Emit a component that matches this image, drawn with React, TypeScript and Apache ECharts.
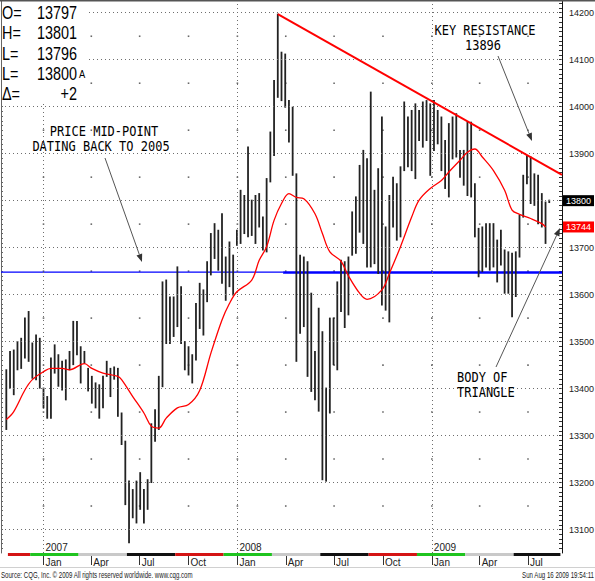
import React, { useEffect, useRef } from "react";
import * as echarts from "echarts";

// ---------- data ----------
const FIRST_WEEK = "2006-10-23"; // first weekly bar
const AXIS_START = "2006-10-13";
const AXIS_END = "2009-09-03";

const highs = [
  13440, 13479, 13482, 13500, 13507, 13550, 13564, 13497, 13514, 13507,
  13401, 13383, 13465, 13493, 13472, 13458, 13461, 13479, 13543, 13543,
  13489, 13479, 13443, 13426, 13412, 13408, 13426, 13458, 13443, 13446,
  13443, 13348, 13288, 13203, 13185, 13203, 13221, 13185, 13206, 13325,
  13355, 13426, 13627, 13631, 13595, 13595, 13659, 13617, 13500, 13489,
  13472, 13581, 13624, 13610, 13670, 13730, 13751, 13737, 13772, 13680,
  13712, 13684, 13737, 13822, 13811, 13914, 13801, 13811, 13815, 13765,
  13847, 13946, 14056, 14197, 14116, 14112, 14013, 13999, 13857, 13684,
  13680, 13670, 13603, 13479, 13571, 13521, 13401, 13550, 13550, 13627,
  13673, 13670, 13680, 13776, 13808, 13875, 13907, 13889, 14031, 13822,
  13868, 13978, 13744, 13811, 13850, 13836, 13872, 14010, 13978, 13992,
  14006, 13992, 14010, 14013, 14006, 14013, 13992, 13978, 13928, 13964,
  13978, 13985, 13907, 13907, 13967, 13967, 13836, 13741, 13744, 13751,
  13751, 13751, 13716, 13737, 13695, 13691, 13688, 13691, 13769, 13854,
  13896, 13893, 13857, 13854, 13815, 13797, 13801,
];
const lows = [
  13313, 13401, 13387, 13440, 13443, 13465, 13458, 13422, 13419, 13401,
  13359, 13337, 13337, 13433, 13405, 13397, 13376, 13440, 13451, 13472,
  13412, 13454, 13395, 13369, 13359, 13337, 13359, 13426, 13383, 13420,
  13341, 13281, 13153, 13072, 13125, 13114, 13143, 13114, 13143, 13200,
  13288, 13313, 13404, 13496, 13496, 13511, 13532, 13496, 13440, 13429,
  13412, 13461, 13528, 13514, 13585, 13642, 13677, 13652, 13624, 13588,
  13617, 13599, 13705, 13709, 13730, 13723, 13726, 13709, 13744, 13695,
  13691, 13840, 13896, 14020, 14013, 13999, 13925, 13854, 13458, 13518,
  13532, 13426, 13394, 13376, 13352, 13206, 13203, 13348, 13451, 13440,
  13564, 13530, 13557, 13684, 13688, 13733, 13709, 13659, 13659, 13666,
  13645, 13578, 13567, 13542, 13744, 13716, 13723, 13864, 13872, 13864,
  13847, 13928, 13914, 13928, 13854, 13907, 13921, 13864, 13826, 13808,
  13889, 13893, 13850, 13833, 13811, 13808, 13723, 13638, 13649, 13659,
  13652, 13659, 13627, 13663, 13603, 13603, 13553, 13596, 13680, 13765,
  13836, 13794, 13790, 13751, 13744, 13709, 13796,
];

// moving average (bar index -> value)
const maIndex = [
  0, 2, 5, 7, 10, 12, 15, 17, 21, 23, 26, 30, 31, 34, 37, 39, 41, 43, 46, 49,
  52, 55, 58, 60, 62, 66, 68, 70, 72, 74, 76, 78, 80, 83, 85, 87, 90, 92, 95, 97,
  101, 103, 106, 109, 111, 114, 117, 119, 122, 124, 126, 128, 131, 134, 136, 138,
  141, 144, 145,
];
const maValue = [
  13334, 13351, 13397, 13419, 13436, 13443, 13443, 13440, 13453, 13443, 13433,
  13426, 13419, 13383, 13348, 13320, 13316, 13337, 13359, 13366, 13396, 13475,
  13546, 13581, 13606, 13631, 13673, 13702, 13758, 13794, 13815, 13807, 13804,
  13772, 13730, 13691, 13671, 13640, 13603, 13590, 13610, 13645, 13702, 13765,
  13801, 13826, 13843, 13861, 13886, 13903, 13910, 13893, 13864, 13822, 13780,
  13771, 13762, 13751, 13744,
];

const priceTicks = [13100, 13200, 13300, 13400, 13500, 13600, 13700, 13800, 13900, 14000, 14100, 14200];
const quarterTicks = [
  "2007-01-01", "2007-04-01", "2007-07-01", "2007-10-01",
  "2008-01-01", "2008-04-01", "2008-07-01", "2008-10-01",
  "2009-01-01", "2009-04-01", "2009-07-01",
];
const yearTicks = ["2007-01-01", "2008-01-01", "2009-01-01"];
const monthNames = ["Jan", "Feb", "Mar", "Apr", "May", "Jun", "Jul", "Aug", "Sep", "Oct", "Nov", "Dec"];

// contract strip (roll dates) and its colours
const contractRolls = [
  "2006-10-26", "2006-12-07", "2007-03-08", "2007-06-07", "2007-09-06", "2007-12-06",
  "2008-03-06", "2008-06-05", "2008-09-04", "2008-12-04", "2009-03-05", "2009-06-04", "2009-08-31",
];
const contractColorIdx = [0, 1, 2, 3, 0, 1, 2, 3, 0, 1, 2, 3];
const stripColors = ["#d41414", "#1fc41f", "#c9c9c9", "#111111"];

const trendStart: [string, number] = ["2008-03-17", 14197];
const trendEndValue = 13855;
const midPoint = 13648;
const midPointSplit = "2008-03-27";
const lastPrice = 13800;
const maLast = 13744;

const infoRows = [
  ["O=", "13797"],
  ["H=", "13801"],
  ["L=", "13796"],
  ["L=", "13800"],
  ["\u0394=", "+2"],
];

// ---------- helpers ----------
const DAY = 86400000;
const ts = (s: string) => {
  const [y, m, d] = s.split("-").map(Number);
  return Date.UTC(y, m - 1, d);
};
const X_MIN = ts(AXIS_START);
const X_MAX = ts(AXIS_END);
const Y_MIN = 13050;
const Y_MAX = 14225;
const weekTs = (i: number) => ts(FIRST_WEEK) + i * 7 * DAY;
const AXIS_FONT = "'Liberation Sans Narrow', 'Arial Narrow', 'Liberation Sans', Arial, sans-serif";

function arrow(x1: number, y1: number, x2: number, y2: number) {
  const a = Math.atan2(y2 - y1, x2 - x1);
  const L = 8, W = 3;
  const bx = x2 - L * Math.cos(a), by = y2 - L * Math.sin(a);
  const px = -Math.sin(a) * W, py = Math.cos(a) * W;
  return [
    { type: "line", z: 100, shape: { x1, y1, x2: bx, y2: by }, style: { stroke: "#555", lineWidth: 1 } },
    { type: "polygon", z: 100, shape: { points: [[x2, y2], [bx + px, by + py], [bx - px, by - py]] }, style: { fill: "#333" } },
  ];
}

function annText(text: string, x: number, y: number, align: string) {
  return {
    type: "text", z: 100, x, y, scaleY: 1.2,
    style: {
      text, fill: "#000", fontSize: 12, fontFamily: "'DejaVu Sans Mono', monospace",
      align, verticalAlign: "middle", textAlign: align, textVerticalAlign: "middle",
    },
  };
}

export default function App() {
  const ref = useRef<HTMLDivElement>(null);
  useEffect(() => {
    if (!ref.current) return;
    const chart = echarts.init(ref.current, null, { renderer: "svg" });

    const bars = highs.map((h, i) => [weekTs(i), h, lows[i]]);
    const ma = maIndex.map((idx, k) => [weekTs(idx), maValue[k]]);
    const dots: number[][] = [];
    quarterTicks.forEach((q) => priceTicks.slice(0, -1).forEach((p) => dots.push([ts(q), p + 50])));
    const strip = contractColorIdx.map((c, k) => [ts(contractRolls[k]), Y_MIN, ts(contractRolls[k + 1]), c]);
    const minorTicks: number[] = [];
    for (let v = 13060; v <= 14220; v += 10) minorTicks.push(v);

    const infoGraphics: any[] = [
      { type: "rect", z: 90, shape: { x: 2, y: 2, width: 86, height: 101 }, style: { fill: "#fff" } },
    ];
    const rowY = [12, 32, 53, 73, 93];
    infoRows.forEach((r, k) => {
      infoGraphics.push({
        type: "text", z: 100, x: 2, y: rowY[k], scaleX: 0.8,
        style: { text: r[0], fill: "#000", fontSize: 18, fontFamily: "'Liberation Sans', Arial, sans-serif", align: "left", verticalAlign: "middle", textAlign: "left", textVerticalAlign: "middle" },
      });
      infoGraphics.push({
        type: "text", z: 100, x: 77, y: rowY[k], scaleX: 0.8,
        style: { text: r[1], fill: "#000", fontSize: 18, fontFamily: "'Liberation Sans', Arial, sans-serif", align: "right", verticalAlign: "middle", textAlign: "right", textVerticalAlign: "middle" },
      });
    });
    infoGraphics.push({
      type: "text", z: 100, x: 79, y: 80, scaleX: 0.85,
      style: { text: "A", fill: "#000", fontSize: 11, fontFamily: "'Liberation Sans', Arial, sans-serif", align: "left", verticalAlign: "bottom", textAlign: "left", textVerticalAlign: "bottom" },
    });

    const tagLabel = (value: number, bg: string) => ({
      show: true, position: "end", distance: 1, formatter: () => String(value),
      backgroundColor: bg, color: "#fff", padding: [1, 3, 1, 3], fontSize: 9, fontFamily: AXIS_FONT,
    });

    const option: any = {
      animation: false,
      backgroundColor: "#fff",
      grid: { left: 1, right: 33, top: 1, bottom: 28, containLabel: false, outerBoundsMode: "none" },
      xAxis: [
        {
          type: "value", min: X_MIN, max: X_MAX, position: "bottom",
          axisLine: { show: false },
          axisTick: { show: true, customValues: quarterTicks.map(ts), length: 12, lineStyle: { color: "#333" } },
          axisLabel: {
            customValues: quarterTicks.map(ts), align: "left", margin: 4, padding: [0, 0, 0, 2],
            fontSize: 10, color: "#222", fontFamily: "'Liberation Sans', Arial, sans-serif",
            formatter: (v: number) => monthNames[new Date(v).getUTCMonth()],
          },
          splitLine: { show: false },
        },
        {
          type: "value", min: X_MIN, max: X_MAX, position: "bottom",
          axisLine: { show: false }, axisTick: { show: false },
          axisLabel: {
            inside: true, customValues: yearTicks.map(ts), align: "left", margin: 1, padding: [0, 0, 0, 2],
            fontSize: 10, color: "#222", fontFamily: "'Liberation Sans', Arial, sans-serif",
            formatter: (v: number) => String(new Date(v).getUTCFullYear()),
          },
          splitLine: { show: false },
        },
      ],
      yAxis: [
        {
          type: "value", min: Y_MIN, max: Y_MAX, position: "right",
          axisLine: { show: true, lineStyle: { color: "#111", width: 1 } },
          axisTick: { show: true, inside: true, length: 3, customValues: minorTicks, lineStyle: { color: "#333" } },
          axisLabel: {
            customValues: priceTicks.filter((v) => v !== lastPrice), margin: 7, fontSize: 9, color: "#222",
            fontFamily: AXIS_FONT, formatter: (v: number) => String(v),
          },
          splitLine: { show: false },
        },
        {
          type: "value", min: Y_MIN, max: Y_MAX, position: "left",
          axisLine: { show: true, lineStyle: { color: "#666", width: 1 } },
          axisTick: { show: true, inside: true, length: 2, customValues: minorTicks, lineStyle: { color: "#666" } },
          axisLabel: { show: false },
          splitLine: { show: false },
        },
      ],
      series: [
        {
          name: "gridlines", type: "line", z: 1, silent: true, symbol: "none",
          lineStyle: { width: 0, opacity: 0 },
          data: [[X_MIN, Y_MIN], [X_MAX, Y_MIN]],
          markLine: {
            silent: true, symbol: ["none", "none"], label: { show: false },
            lineStyle: { color: "#6e6e6e", type: [1, 3], width: 1, opacity: 1 },
            data: [
              ...priceTicks.map((v) => ({ yAxis: v })),
              ...yearTicks.map((t) => ({ xAxis: ts(t) })),
            ],
          },
        },
        {
          name: "dots", type: "scatter", z: 1, silent: true,
          symbol: "rect", symbolSize: 1.6, itemStyle: { color: "#444" },
          data: dots,
        },
        {
          name: "strip", type: "custom", z: 2, silent: true, clip: false,
          encode: { x: 0, y: 1 },
          data: strip,
          renderItem: (_p: any, api: any) => {
            const s = api.coord([api.value(0), Y_MIN]);
            const e = api.coord([api.value(2), Y_MIN]);
            return {
              type: "rect",
              shape: { x: s[0], y: s[1], width: e[0] - s[0], height: 3 },
              style: { fill: stripColors[api.value(3)] },
            };
          },
        },
        {
          name: "midLeft", type: "line", z: 3, symbol: "none", silent: true,
          lineStyle: { color: "#0000ff", width: 1.3 },
          data: [[X_MIN, midPoint], [ts(midPointSplit), midPoint]],
        },
        {
          name: "midRight", type: "line", z: 3, symbol: "none", silent: true,
          lineStyle: { color: "#0000ff", width: 2.5 },
          data: [[ts(midPointSplit), midPoint - 1], [X_MAX, midPoint - 1]],
        },
        {
          name: "price", type: "custom", z: 4, silent: true,
          encode: { x: 0, y: [1, 2] },
          data: bars,
          renderItem: (_p: any, api: any) => {
            const a = api.coord([api.value(0), api.value(1)]);
            const b = api.coord([api.value(0), api.value(2)]);
            return {
              type: "line",
              shape: { x1: a[0], y1: a[1] - 0.5, x2: b[0], y2: b[1] + 0.5 },
              style: { stroke: "#222", lineWidth: 1.8 },
            };
          },
        },
        {
          name: "ma", type: "line", z: 5, symbol: "none", silent: true, smooth: 0.35,
          lineStyle: { color: "#ff0000", width: 1.3 },
          data: ma,
        },
        {
          name: "tags", type: "line", z: 10, symbol: "none", silent: true,
          lineStyle: { width: 0, color: "rgba(0,0,0,0)" },
          data: [[X_MAX, lastPrice], [X_MAX, maLast]],
          markLine: {
            silent: true, symbol: ["none", "none"],
            lineStyle: { color: "rgba(0,0,0,0)", width: 1 },
            data: [
              { yAxis: lastPrice, label: tagLabel(lastPrice, "#000") },
              { yAxis: maLast, label: tagLabel(maLast, "#ff0000") },
            ],
          },
        },
        {
          name: "trend", type: "line", z: 5, symbol: "none", silent: true,
          lineStyle: { color: "#ff0000", width: 2 },
          data: [[ts(trendStart[0]), trendStart[1]], [X_MAX, trendEndValue]],
        },
      ],
      graphic: {
        elements: [
          { type: "rect", z: 100, shape: { x: 0, y: 0, width: 595, height: 1.5 }, style: { fill: "#555" } },
          ...infoGraphics,
          annText("PRICE MID-POINT", 104, 131, "center"),
          annText("DATING BACK TO 2005", 101, 146, "center"),
          ...arrow(105, 158, 142, 262),
          annText("KEY RESISTANCE", 485, 30, "center"),
          annText("13896", 483, 45, "center"),
          ...arrow(498, 56, 532, 141),
          annText("BODY OF", 457, 377, "left"),
          annText("TRIANGLE", 457, 392, "left"),
          ...arrow(496, 367, 560, 228),
          { type: "rect", z: 100, shape: { x: 0, y: 567, width: 595, height: 1 }, style: { fill: "#d0d0d0" } },
          {
            type: "text", z: 100, x: 1, y: 575, scaleX: 0.72,
            style: { text: "Source: CQG, Inc. \u00A9 2009 All rights reserved worldwide. www.cqg.com", fill: "#222", fontSize: 8.5, fontFamily: "'Liberation Sans', Arial, sans-serif", align: "left", verticalAlign: "middle", textAlign: "left", textVerticalAlign: "middle" },
          },
          {
            type: "text", z: 100, x: 594, y: 575, scaleX: 0.72,
            style: { text: "Sun Aug 16 2009 19:54:11", fill: "#222", fontSize: 8.5, fontFamily: "'Liberation Sans', Arial, sans-serif", align: "right", verticalAlign: "middle", textAlign: "right", textVerticalAlign: "middle" },
          },
        ],
      },
    };

    chart.setOption(option);
    return () => chart.dispose();
  }, []);

  return (
    <div
      ref={ref}
      style={{ position: "fixed", left: 0, top: 0, width: 595, height: 581, background: "#fff" }}
    />
  );
}
